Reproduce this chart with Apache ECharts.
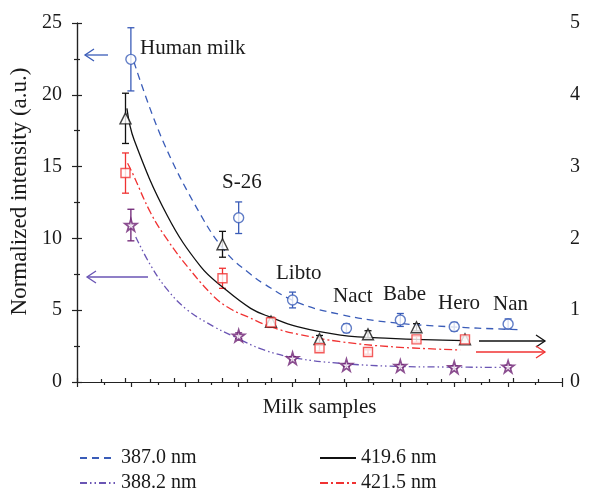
<!DOCTYPE html>
<html>
<head>
<meta charset="utf-8">
<script src="https://cdn.jsdelivr.net/npm/echarts@6/dist/echarts.min.js"></script>
<style>
  html, body { margin: 0; padding: 0; background: #fff; }
  #main { width: 589px; height: 489px; }
</style>
</head>
<body>
<div id="main"></div>
<script>
// samples, in plot order
var sampleNames = ['Human milk', 'S-26', 'Libto', 'Nact', 'Babe', 'Hero', 'Nan'];
var sampleX = [1, 3, 4, 5, 6, 7, 8];

// measured points (left axis, a.u.)
var blue387 = [22.47, 11.44, 5.71, 3.74, 4.32, 3.85, 4.04];
var blue387Err = [2.2, 1.1, 0.55, 0.3, 0.45, 0.3, 0.35];
var purple388 = [10.93, 3.22, 1.65, 1.18, 1.11, 1.02, 1.07];
var purple388Err = [1.1, 0.2, 0.12, 0.1, 0.1, 0.1, 0.1];
var black419 = [18.36, 9.59, 4.2, 2.99, 3.32, 3.81, 2.97];
var black419Err = [1.75, 0.9, 0.3, 0.25, 0.25, 0.25, 0.2];
var red421 = [14.55, 7.22, 4.15, 2.35, 2.09, 2.97, 2.97];
var red421Err = [1.4, 0.7, 0.35, 0.2, 0.15, 0.2, 0.2];

// fitted curves [x, y]
var fit387 = [[1.056, 22.3], [1.587, 16.85], [2.296, 11.63], [2.79, 8.93], [3.222, 7.5],
  [3.463, 6.85], [4.087, 5.55], [4.889, 4.7], [5.815, 4.15], [6.9, 3.85], [7.976, 3.67], [8.22, 3.64]];
var fit388 = [[1.09, 10.1], [1.37, 8.1], [1.68, 6.41], [2.05, 5.01], [2.543, 3.85], [2.852, 3.27],
  [3.469, 2.23], [4.087, 1.65], [4.889, 1.3], [5.815, 1.1], [6.9, 1.04], [7.976, 1.02]];
var fit419 = [[1.029, 19.06], [1.179, 16.85], [1.866, 11.56], [2.551, 8.03], [3.031, 6.53],
  [3.58, 5.13], [3.992, 4.51], [4.541, 3.85], [5.432, 3.27], [6.461, 3.04], [7.984, 2.88]];
var fit421 = [[1.043, 15.23], [1.146, 14.53], [1.523, 11.75], [1.866, 9.89], [2.278, 8.03],
  [2.825, 5.94], [3.169, 5.08], [3.512, 4.55], [3.992, 3.85], [4.541, 3.34], [5.432, 2.81],
  [6.461, 2.46], [7.901, 2.23]];

var leftTicks = [0, 5, 10, 15, 20, 25];
var rightTicks = [0, 1, 2, 3, 4, 5];

var FONT = 'Liberation Serif';
var C_BLUE = '#3a5cb8', C_PURPLE_LINE = '#6a55b4', C_PURPLE = '#6e2274', C_BLACK = '#111', C_RED = '#f03232';
var STAR = 'path://M50,0 L61,35 L98,35 L68,57 L79,91 L50,70 L21,91 L32,57 L2,35 L39,35 Z';

function zip(xs, ys, es) {
  return xs.map(function (x, i) { return es ? [x, ys[i], es[i]] : [x, ys[i]]; });
}

function errorBars(xIdx, ys, errs, color) {
  return {
    type: 'custom',
    xAxisIndex: xIdx,
    yAxisIndex: 0,
    z: 2,
    silent: true,
    data: zip(sampleX, ys, errs),
    renderItem: function (params, api) {
      var x = api.value(0), y = api.value(1), e = api.value(2);
      var t = api.coord([x, y + e]), b = api.coord([x, y - e]);
      var w = 3.5, st = { stroke: color, lineWidth: 1.3 };
      return {
        type: 'group',
        children: [
          { type: 'line', shape: { x1: t[0], y1: t[1], x2: b[0], y2: b[1] }, style: st },
          { type: 'line', shape: { x1: t[0] - w, y1: t[1], x2: t[0] + w, y2: t[1] }, style: st },
          { type: 'line', shape: { x1: b[0] - w, y1: b[1], x2: b[0] + w, y2: b[1] }, style: st }
        ]
      };
    }
  };
}

function markers(xIdx, ys, symbol, size, color, bw) {
  return {
    type: 'scatter',
    xAxisIndex: xIdx,
    yAxisIndex: 0,
    z: 4,
    symbol: symbol,
    symbolSize: size,
    itemStyle: { color: '#fff', borderColor: color, borderWidth: bw || 1.4 },
    data: zip(sampleX, ys)
  };
}

function fitLine(name, xIdx, pts, color, type) {
  return {
    name: name,
    type: 'line',
    xAxisIndex: xIdx,
    yAxisIndex: 0,
    z: 3,
    smooth: 0.4,
    symbol: 'none',
    lineStyle: { color: color, width: 1.3, type: type },
    itemStyle: { color: color },
    data: pts
  };
}

function arrow(x1, x2, y, color) {
  var d = x2 > x1 ? -1 : 1;
  return [
    { type: 'line', shape: { x1: x1, y1: y, x2: x2, y2: y }, style: { stroke: color, lineWidth: 1.3 } },
    { type: 'polyline', shape: { points: [[x2 + d * 9, y - 6], [x2, y], [x2 + d * 9, y + 6]] },
      style: { stroke: color, lineWidth: 1.3, fill: null } }
  ];
}

var labelPos = [[140, 50], [222, 184], [276, 275], [333, 298], [383, 296], [438, 305], [493, 306]];
var graphics = [];
sampleNames.forEach(function (n, i) {
  graphics.push({ type: 'text', left: labelPos[i][0], top: labelPos[i][1] - 12,
    style: { text: n, font: '21px "' + FONT + '"', fill: '#1a1a1a' } });
});
graphics = graphics.concat(arrow(108, 85, 55, C_BLUE), arrow(148, 87, 277, C_PURPLE_LINE),
  arrow(479, 545, 341, C_BLACK), arrow(476, 545, 352, C_RED));

var axisLine = { lineStyle: { color: '#222', width: 1.2 } };
var tickStyle = { lineStyle: { color: '#222', width: 1.2 } };
var legendBase = {
  top: 443, height: 80, orient: 'vertical', itemWidth: 36, itemHeight: 14, itemGap: 5,
  itemStyle: { opacity: 0 },
  textStyle: { fontFamily: FONT, fontSize: 20, color: '#1a1a1a' }
};

var myChart = echarts.init(document.getElementById('main'));
var option = {
  animation: false,
  textStyle: { fontFamily: FONT },
  grid: { left: 76, right: 27, top: 23, bottom: 107 },
  legend: [
    Object.assign({}, legendBase, { left: 74, data: ['387.0 nm', '388.2 nm'] }),
    Object.assign({}, legendBase, { left: 314, data: ['419.6 nm', '421.5 nm'] })
  ],
  xAxis: [
    { type: 'value', min: 0, max: 9, interval: 1, position: 'bottom',
      name: 'Milk samples', nameLocation: 'middle', nameGap: 15,
      nameTextStyle: { fontFamily: FONT, fontSize: 21, color: '#1a1a1a' },
      axisLine: axisLine, axisTick: { length: 5, lineStyle: tickStyle.lineStyle },
      minorTick: { show: true, splitNumber: 2, length: 3, lineStyle: tickStyle.lineStyle },
      axisLabel: { show: false }, splitLine: { show: false } },
    { type: 'value', min: 0, max: 10, interval: 1, position: 'top',
      axisLine: axisLine, axisTick: { length: 4, lineStyle: tickStyle.lineStyle },
      minorTick: { show: true, splitNumber: 2, length: 3, lineStyle: tickStyle.lineStyle },
      axisLabel: { show: false }, splitLine: { show: false } }
  ],
  yAxis: [
    { type: 'value', min: leftTicks[0], max: leftTicks[leftTicks.length - 1], interval: 5, position: 'left',
      name: 'Normalized intensity (a.u.)', nameLocation: 'middle', nameGap: 46,
      nameTextStyle: { fontFamily: FONT, fontSize: 23, color: '#1a1a1a', padding: [0, 0, 0, 22] },
      axisLine: axisLine, axisTick: { length: 5, lineStyle: tickStyle.lineStyle },
      minorTick: { show: true, splitNumber: 2, length: 3, lineStyle: tickStyle.lineStyle },
      axisLabel: { fontFamily: FONT, fontSize: 20, color: '#1a1a1a', margin: 15 },
      splitLine: { show: false } },
    { type: 'value', min: rightTicks[0], max: rightTicks[rightTicks.length - 1], interval: 1, position: 'right',
      axisLine: axisLine, axisTick: { length: 5, lineStyle: tickStyle.lineStyle },
      minorTick: { show: true, splitNumber: 2, length: 3, lineStyle: tickStyle.lineStyle },
      axisLabel: { fontFamily: FONT, fontSize: 20, color: '#1a1a1a', margin: 8 },
      splitLine: { show: false } }
  ],
  series: [
    fitLine('387.0 nm', 0, fit387, C_BLUE, [7, 5]),
    fitLine('388.2 nm', 0, fit388, C_PURPLE_LINE, [7, 3, 1.5, 3, 1.5, 3]),
    fitLine('419.6 nm', 1, fit419, C_BLACK, 'solid'),
    fitLine('421.5 nm', 1, fit421, C_RED, [8, 3, 2, 3]),
    errorBars(0, blue387, blue387Err, C_BLUE),
    errorBars(0, purple388, purple388Err, C_PURPLE),
    errorBars(1, black419, black419Err, C_BLACK),
    errorBars(1, red421, red421Err, C_RED),
    markers(0, blue387, 'circle', 10, C_BLUE),
    markers(0, purple388, STAR, 12, C_PURPLE, 1.7),
    markers(1, black419, 'triangle', 11, C_BLACK),
    markers(1, red421, 'rect', 9, C_RED)
  ],
  graphic: graphics
};
myChart.setOption(option);
</script>
</body>
</html>
